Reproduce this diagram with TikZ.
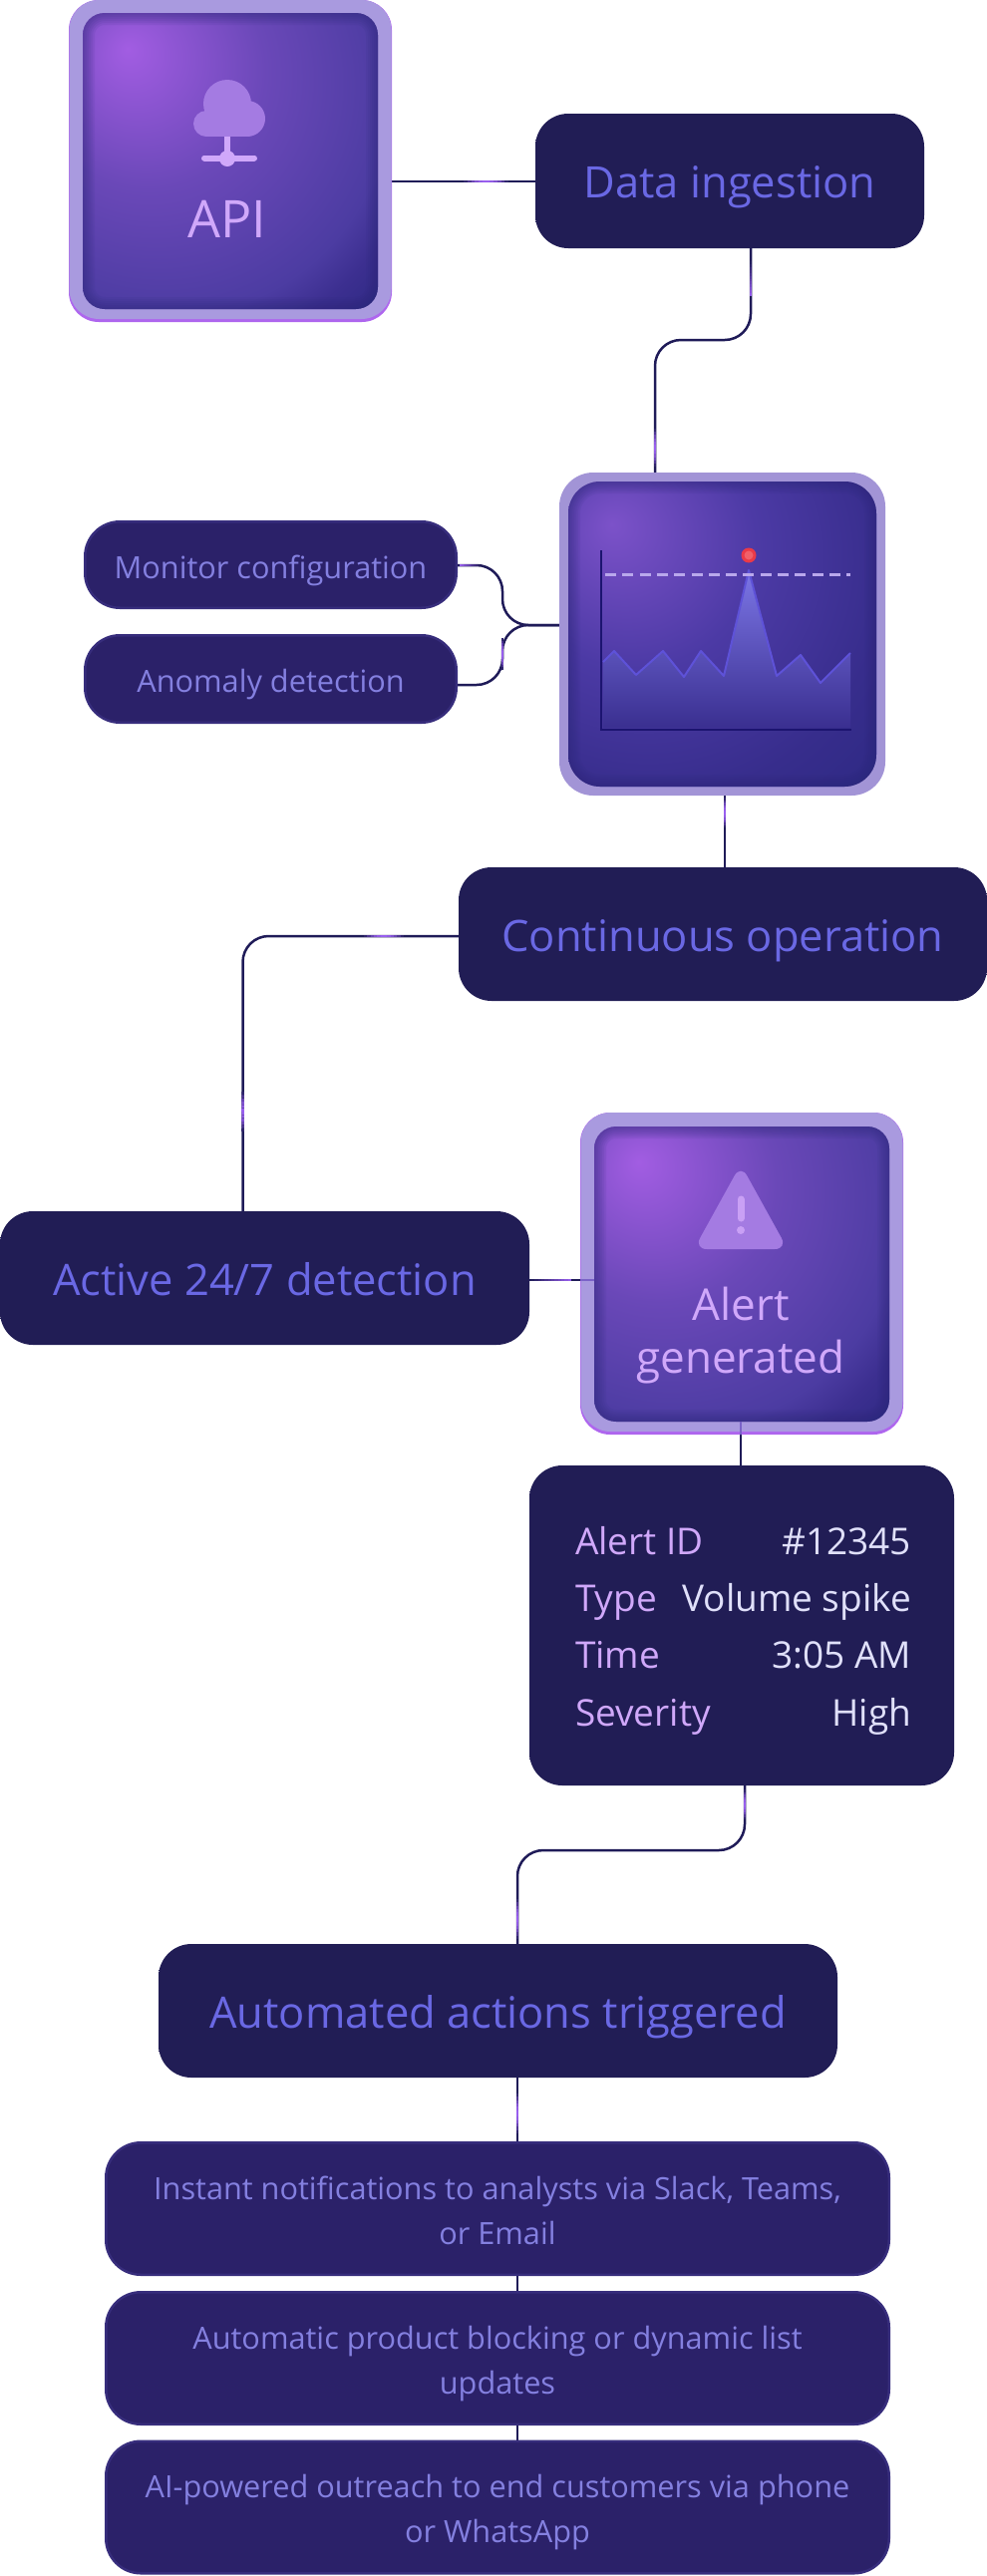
\documentclass[tikz,border=0pt]{standalone}
\usepackage{fontspec}
\setmainfont{Open Sans}
\usetikzlibrary{calc,shapes.geometric}
\definecolor{navy}{HTML}{1F1B58}
\definecolor{accent}{HTML}{9A60F0}
\definecolor{darkfill}{HTML}{211D55}
\definecolor{darklow}{HTML}{2B2472}
\definecolor{darktop}{HTML}{1E1A50}
\definecolor{listfill}{HTML}{2B2169}
\definecolor{listedge}{HTML}{372D7C}
\definecolor{headtext}{HTML}{6A68E4}
\definecolor{listtext}{HTML}{8480E0}
\definecolor{lilac}{HTML}{D0A8FA}
\definecolor{valtext}{HTML}{E0E0FA}
\definecolor{lav}{HTML}{A99ADF}
\definecolor{rim}{HTML}{AE66EE}
\definecolor{faint}{HTML}{7A62C8}
\definecolor{glowa}{HTML}{A25DE2}
\definecolor{glowb}{HTML}{6A48B8}
\definecolor{glowd}{HTML}{4C3CA2}
\definecolor{glowe}{HTML}{3C2F90}
\definecolor{glowc}{HTML}{302A85}
\definecolor{chara}{HTML}{7C52C9}
\definecolor{charb}{HTML}{4C3AA5}
\definecolor{chard}{HTML}{372D8C}
\definecolor{charc}{HTML}{2F2A85}
\definecolor{insetc}{HTML}{2C2878}
\definecolor{iconc}{HTML}{A47BE2}
\definecolor{areatop}{HTML}{7C76E6}
\definecolor{areabot}{HTML}{3A2F90}
\definecolor{arealine}{HTML}{5E52D8}
\definecolor{axisc}{HTML}{1C1470}
\definecolor{dashc}{HTML}{B9A8EC}
\definecolor{redo}{HTML}{EA3A48}
\definecolor{redi}{HTML}{F0606A}
\definecolor{exclc}{HTML}{C9A0F5}
\pgfdeclareradialshading{glowbright}{\pgfpoint{-17.5bp}{19bp}}{color(0bp)=(glowa); color(20bp)=(glowb); color(38bp)=(glowd); color(43bp)=(glowe); color(48bp)=(glowc); color(100bp)=(glowc)}
\pgfdeclareradialshading{glowchart}{\pgfpoint{-18bp}{18bp}}{color(0bp)=(chara); color(20bp)=(charb); color(38bp)=(chard); color(48bp)=(charc); color(100bp)=(charc)}
\pgfdeclareverticalshading{darkbox}{100bp}{color(0bp)=(darklow); color(12bp)=(darkfill); color(92bp)=(darkfill); color(100bp)=(darktop)}
\newcommand{\myinset}[2]{%
  \begin{scope}
    \clip[rounded corners=#2] (#1.south west) rectangle (#1.north east);
    \foreach \w in {4,8,...,24}
      \draw[insetc,opacity=.09,line width=\w pt,rounded corners=#2] (#1.south west) rectangle (#1.north east);
  \end{scope}}
% fading accent along a straight part of a connector: light in the middle
\newcommand{\accentmid}[2]{%
  \foreach \i in {0,...,11}{%
    \pgfmathsetmacro{\m}{100*sin(180*(\i+.5)/12)}%
    \pgfmathsetmacro{\fa}{\i/12}\pgfmathsetmacro{\fb}{(\i+1)/12}%
    \draw[line width=2.5pt,color=accent!\m!navy] ($#1!\fa!#2$) -- ($#1!\fb!#2$);}}
% the same, brightest at the far end
\newcommand{\accentend}[2]{%
  \foreach \i in {0,...,11}{%
    \pgfmathsetmacro{\m}{100*(\i+.5)/12}%
    \pgfmathsetmacro{\fa}{\i/12}\pgfmathsetmacro{\fb}{(\i+1)/12}%
    \draw[line width=2.5pt,color=accent!\m!navy] ($#1!\fa!#2$) -- ($#1!\fb!#2$);}}
\tikzset{
  conn/.style={draw=navy,line width=2.5pt,rounded corners=26pt},
  overframe/.style={draw=faint,line width=2pt},
  boxbase/.style={inner sep=0pt,outer sep=0pt,rectangle,align=center},
  head/.style={boxbase,shade,shading=darkbox,rounded corners=33pt,text=headtext,font=\fontsize{43.5}{50}\selectfont,text height=37pt,text depth=3pt},
  listbox/.style={boxbase,fill=listfill,draw=listedge,line width=2.5pt,rounded corners=35pt,text=listtext,font=\fontsize{30.7}{45}\selectfont},
  oneline/.style={text height=29pt,text depth=2pt},
  twoline/.style={text height=75pt,text depth=4pt},
  frameouter/.style={boxbase,rounded corners=30pt},
  frameinner/.style={boxbase,rounded corners=22pt},
  labeltext/.style={inner sep=0pt,outer sep=0pt,anchor=base,align=center},
  keytext/.style={inner sep=0pt,outer sep=0pt,anchor=base west,text=lilac,font=\fontsize{37}{44}\selectfont},
  valuetext/.style={inner sep=0pt,outer sep=0pt,anchor=base east,text=valtext,font=\fontsize{37}{44}\selectfont},
}
\begin{document}
\begin{tikzpicture}[x=1pt,y=-1pt]
\useasboundingbox (0,0) rectangle (990,2584);
% ---------- named ports
\coordinate (dataOut) at (753,249);
\coordinate (chartIn) at (657,474);
\coordinate (chartOut) at (727,798);
\coordinate (contIn) at (727,870);
\coordinate (activeUp) at (243.5,1215);
\coordinate (alertOut) at (743,1439);
\coordinate (tabIn) at (743,1470);
\coordinate (tabOut) at (747,1791);
\coordinate (autoIn) at (519,1950);
\coordinate (autoOut) at (519,2084);
\coordinate (laIn) at (519,2148);
\coordinate (laOut) at (519,2283);
\coordinate (lbIn) at (519,2298);
\coordinate (lbOut) at (519,2433);
\coordinate (lcIn) at (519,2448);
\coordinate (monOut) at (459,567);
\coordinate (anoOut) at (459,687);
\coordinate (chartW) at (561,627);
\coordinate (apiOut) at (393,182);
\coordinate (dataIn) at (537,182);
\coordinate (contOut) at (460,939);
\coordinate (actOut) at (531,1284);
\coordinate (alertIn) at (582,1284);
% ---------- connectors
\draw[conn] (apiOut) -- (dataIn);
\draw[conn] (dataOut) -- (753,341) -- (657,341) -- (chartIn);
\draw[conn] (monOut) -- (504,567) -- (504,627) -- (chartW);
\draw[conn] (anoOut) -- (504,687) -- (504,627) -- (chartW);
\draw[conn] (chartOut) -- (contIn);
\draw[conn] (contOut) -- (243.5,939) -- (activeUp);
\draw[conn] (actOut) -- (alertIn);
\draw[conn] (alertOut) -- (tabIn);
\draw[conn] (tabOut) -- (747,1856) -- (519,1856) -- (autoIn);
\draw[conn] (autoOut) -- (laIn);
\draw[conn] (laOut) -- (lbIn);
\draw[conn] (lbOut) -- (lcIn);
% ---------- gradient accents on the connectors
\accentmid{(465,182)}{(510,182)}
\accentend{(753,262)}{(753,297)}
\accentmid{(657,430)}{(657,468)}
\accentend{(482,567)}{(461,567)}
\accentmid{(504,640)}{(504,672)}
\accentmid{(727,800)}{(727,830)}
\accentmid{(365,939)}{(405,939)}
\accentmid{(243.5,1095)}{(243.5,1135)}
\accentend{(533,1284)}{(573,1284)}
\accentmid{(747,1795)}{(747,1825)}
\accentmid{(519,1905)}{(519,1945)}
\accentmid{(519,2100)}{(519,2140)}
% ---------- API card
\node[frameouter,fill=rim,minimum width=324pt,minimum height=323pt] (api) at (231,161.5) {};
\node[frameouter,fill=lav,minimum width=323pt,minimum height=320pt] (apif) at (231,160) {};
\node[frameinner,shade,shading=glowbright,minimum width=296pt,minimum height=297pt] (apii) at (231,161.5) {};
\myinset{apii}{22pt}
\fill[iconc] (228,104) circle (24) (248,119) circle (18) (207,124) circle (13);
\fill[iconc] (207,111) rectangle (248,137);
\draw[lilac,line width=6pt] (228,137) -- (228,158);
\draw[lilac,line width=6pt,line cap=round] (205,158.5) -- (255,158.5);
\fill[lilac] (228,159) circle (8);
\node[labeltext,text=lilac,font=\fontsize{52}{60}\selectfont] (apit) at (228,238) {API};
% ---------- chart card
\node[frameouter,fill=lav!96!black,rounded corners=34pt,minimum width=327pt,minimum height=324pt] (chart) at (724.5,636) {};
\node[frameinner,rounded corners=32pt,shade,shading=glowchart,minimum width=309pt,minimum height=306pt] (charti) at (chart) {};
\myinset{charti}{32pt}
\shade[top color=areatop,bottom color=areabot] (605,664) -- (616,653) -- (638,677) -- (665,653) -- (686,679) -- (703,653) -- (726,678) -- (751,572) -- (779,678) -- (803,657) -- (823,685) -- (853,655) -- (853,730) -- (605,730) -- cycle;
\draw[draw=arealine,line width=2pt,line join=round] (605,664) -- (616,653) -- (638,677) -- (665,653) -- (686,679) -- (703,653) -- (726,678) -- (751,572) -- (779,678) -- (803,657) -- (823,685) -- (853,655);
\draw[axisc,line width=2.5pt] (603,552) -- (603,732) -- (854,732);
\draw[dashc,line width=3pt,dash pattern=on 11pt off 6.3pt] (607,576) -- (853,576);
\fill[redo] (751,557) circle (7.5);
\fill[redi] (751,557) circle (4.5);
% ---------- Alert card
\node[frameouter,fill=rim,minimum width=324pt,minimum height=323pt] (alert) at (744,1277.5) {};
\node[frameouter,fill=lav,minimum width=323pt,minimum height=320pt] (alertf) at (744,1276) {};
\node[frameinner,shade,shading=glowbright,minimum width=296pt,minimum height=296pt] (alerti) at (744,1278) {};
\myinset{alerti}{22pt}
\draw[overframe] (alert.west |- alertIn) -- (alerti.west |- alertIn);
\draw[overframe] (alertOut) -- (alerti.south -| alertOut);
\fill[iconc,rounded corners=13pt] (743,1168) -- (790,1253) -- (696,1253) -- cycle;
\draw[exclc,line width=7pt,line cap=round] (743,1203) -- (743,1222);
\fill[exclc] (743,1234) circle (4);
\node[labeltext,text=lilac,font=\fontsize{44}{53}\selectfont] (alertt) at (743,1324) {Alert};
\node[labeltext,text=lilac,font=\fontsize{44}{53}\selectfont] (alertu) at (743,1377) {generated};
% ---------- dark headings
\node[head,minimum width=390pt,minimum height=135pt] (datab) at (732,181.5) {Data ingestion};
\node[head,minimum width=530pt,minimum height=134pt] (contb) at (725,937) {Continuous operation};
\node[head,minimum width=531pt,minimum height=134pt] (actb) at (265.5,1282) {Active 24/7 detection};
\node[head,minimum width=681pt,minimum height=134pt] (autob) at (499.5,2017) {Automated actions triggered};
% ---------- small boxes
\node[listbox,oneline,minimum width=372.5pt,minimum height=86.5pt] (monb) at (271.5,566.5) {Monitor configuration};
\node[listbox,oneline,minimum width=372.5pt,minimum height=87.5pt] (anob) at (271.5,681) {Anomaly detection};
\node[listbox,twoline,minimum width=785.5pt,minimum height=132.5pt] (lab) at (499,2215.5) {Instant notifications to analysts via Slack, Teams,\\or Email};
\node[listbox,twoline,minimum width=785.5pt,minimum height=132.5pt] (lbb) at (499,2365.5) {Automatic product blocking or dynamic list\\updates};
\node[listbox,twoline,minimum width=785.5pt,minimum height=132.5pt] (lcb) at (499,2515) {AI-powered outreach to end customers via phone\\or WhatsApp};
% ---------- table
\node[boxbase,shade,shading=darkbox,rounded corners=33pt,minimum width=426pt,minimum height=321pt] (tabb) at (744,1630.5) {};
\node[keytext] (k1) at (577,1559) {Alert ID};
\node[keytext] (k2) at (577,1616) {Type};
\node[keytext] (k3) at (577,1673) {Time};
\node[keytext] (k4) at (577,1731) {Severity};
\node[valuetext] (v1) at (914,1559) {\#12345};
\node[valuetext] (v2) at (914,1616) {Volume spike};
\node[valuetext] (v3) at (914,1673) {3:05 AM};
\node[valuetext] (v4) at (914,1731) {High};
\end{tikzpicture}
\end{document}
